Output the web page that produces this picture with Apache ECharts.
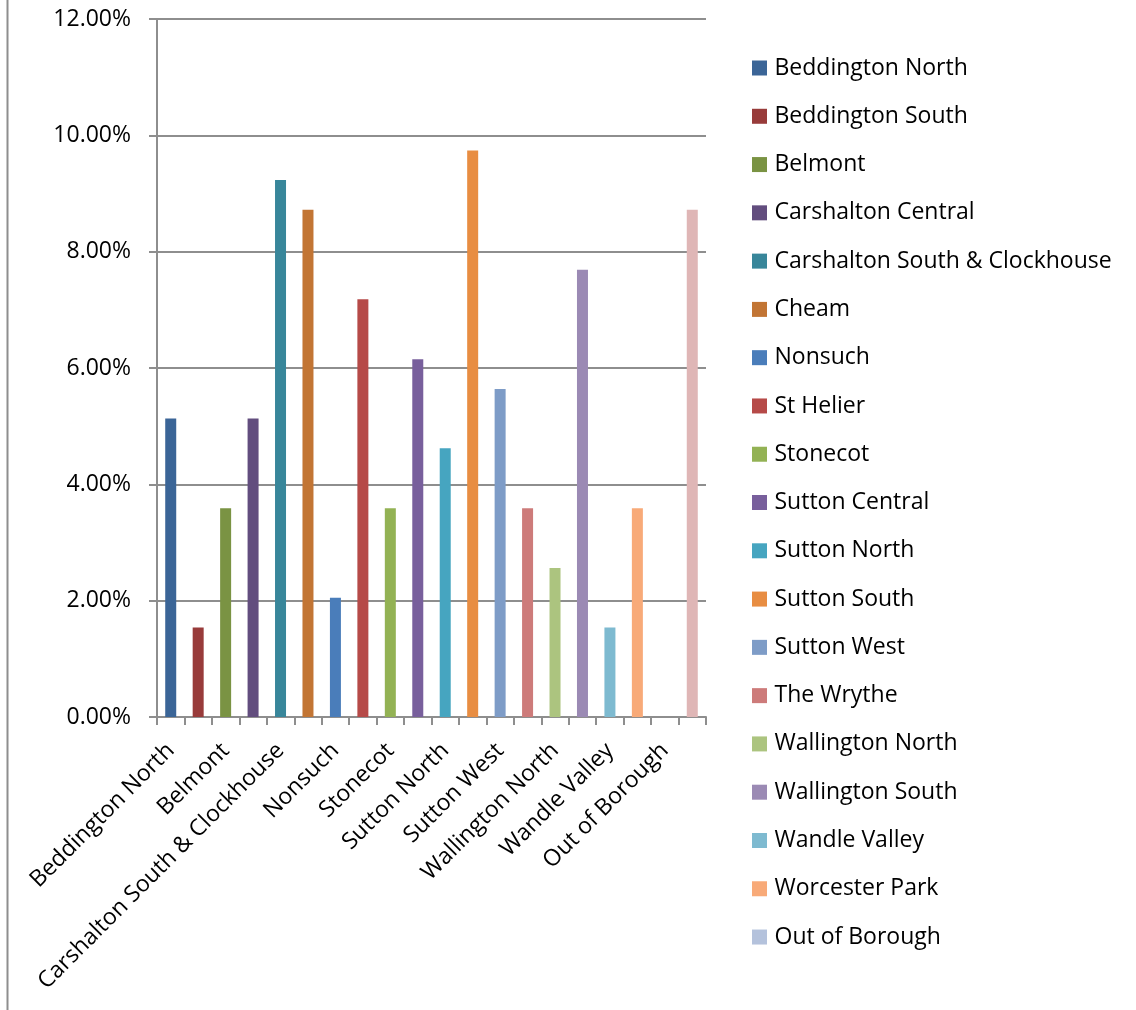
<!DOCTYPE html>
<html>
<head>
<meta charset="utf-8">
<script src="https://cdn.jsdelivr.net/npm/echarts@6/dist/echarts.min.js"></script>
<style>
html,body{margin:0;padding:0;background:#fff;}
#chart{width:1136px;height:1010px;}
</style>
</head>
<body>
<div id="chart"></div>
<script>
const categories = ['Beddington North','Beddington South','Belmont','Carshalton Central','Carshalton South & Clockhouse','Cheam','Nonsuch','St Helier','Stonecot','Sutton Central','Sutton North','Sutton South','Sutton West','The Wrythe','Wallington North','Wallington South','Wandle Valley','Worcester Park','Out of Borough',''];
const values = [5.13,1.54,3.59,5.13,9.23,8.72,2.05,7.18,3.59,6.15,4.62,9.74,5.64,3.59,2.56,7.69,1.54,3.59,0,8.72];
const yTickValues = [0,2,4,6,8,10,12];

const palette = ['#3B6597','#983B3A','#7A9343','#624D7E','#38869A','#C27534','#4A7DBA','#B64A48','#93B254','#785F9C','#46A5C0','#E88D42','#7E9CC7','#CD7B7A','#ACC47F','#9B8AB4','#7EBAD0','#F8AA78','#B4C2DC','#DFB6B6'];

const FONT = "'Open Sans', sans-serif";
const LINE = '#8e8e8e';

const chart = echarts.init(document.getElementById('chart'), null, {renderer:'canvas'});

const series = categories.map((c, i) => ({
  type: 'bar',
  name: c === '' ? '(blank)' : c,
  stack: 'all',
  barWidth: 11,
  itemStyle: { color: palette[i] },
  data: values.map((v, j) => (j === i ? v : '-'))
}));

chart.setOption({
  animation: false,
  backgroundColor: '#fff',
  grid: { left: 157, right: 430, top: 19, bottom: 293, containLabel: false },
  legend: {
    data: categories.filter(c => c !== ''),
    orient: 'vertical',
    left: 752,
    top: 54,
    padding: 0,
    itemWidth: 20,
    itemHeight: 15,
    itemGap: 20.28,
    icon: 'path://M0,0L15,0L15,15L0,15Z',
    selectedMode: false,
    textStyle: { fontFamily: FONT, fontSize: 23, color: '#000', lineHeight: 28 }
  },
  xAxis: {
    type: 'category',
    data: categories,
    boundaryGap: true,
    axisLine: { lineStyle: { color: LINE, width: 2 } },
    axisTick: { show: true, interval: 0, length: 8, lineStyle: { color: LINE, width: 2 } },
    axisLabel: {
      interval: 1,
      rotate: 45,
      margin: 30,
      verticalAlign: 'middle',
      fontFamily: FONT,
      fontSize: 23,
      color: '#000'
    },
    splitLine: { show: false }
  },
  yAxis: {
    type: 'value',
    min: yTickValues[0],
    max: yTickValues[yTickValues.length - 1],
    interval: yTickValues[1] - yTickValues[0],
    axisLine: { show: true, lineStyle: { color: LINE, width: 2 } },
    axisTick: { show: true, length: 8, lineStyle: { color: LINE, width: 2 } },
    axisLabel: {
      margin: 26,
      fontFamily: FONT,
      fontSize: 23,
      color: '#000',
      formatter: v => v.toFixed(2) + '%'
    },
    splitLine: { show: true, lineStyle: { color: LINE, width: 2 } }
  },
  graphic: [{
    type: 'line',
    shape: { x1: 7.5, y1: 0, x2: 7.5, y2: 1010 },
    style: { stroke: '#8e8e8e', lineWidth: 2 },
    silent: true
  }],
  series: series
});
</script>
</body>
</html>
